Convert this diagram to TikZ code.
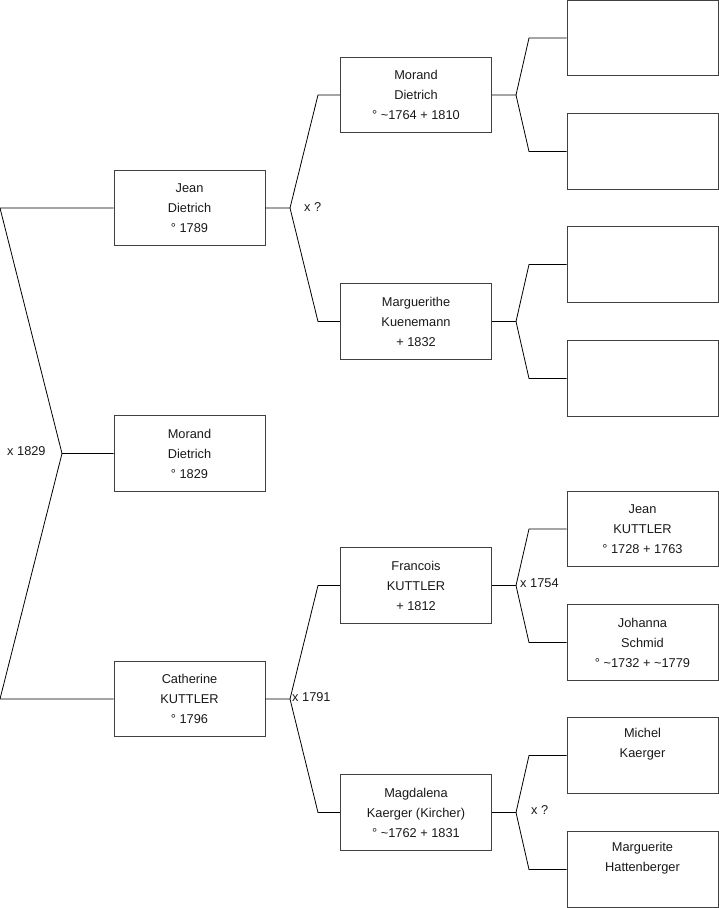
\documentclass[tikz,border=0pt]{standalone}
\usepackage{fontspec}
\setmainfont{Liberation Sans}
\usetikzlibrary{positioning}
\definecolor{boxgray}{RGB}{64,64,64}
\definecolor{txtgray}{RGB}{25,25,25}

\begin{document}
\begin{tikzpicture}[x=1pt, y=-1pt,
    every node/.style={font=\fontsize{12.8}{20}\selectfont, text=txtgray},
    person/.style={draw=boxgray, line width=0.9pt, minimum width=151pt, minimum height=75.5pt, inner sep=0pt, align=center},
    link/.style={draw=black, line width=0.8pt},
    marr/.style={anchor=west, inner sep=0pt}
]
\useasboundingbox (0,0) rectangle (719,908);

\node[person] (m) at (189.5,453.5) {Morand\\Dietrich\\° 1829};
\node[person] (f) at (189.5,208) {Jean\\Dietrich\\° 1789};
\node[person] (mo) at (189.5,699) {Catherine\\KUTTLER\\° 1796};

\node[person] (ff) at (416,95) {Morand\\Dietrich\\° \char`\~1764 + 1810};
\node[person] (fm) at (416,321.5) {Marguerithe\\Kuenemann\\+ 1832};
\node[person] (mf) at (416,585.5) {Francois\\KUTTLER\\+ 1812};
\node[person] (mm) at (416,812.5) {Magdalena\\Kaerger (Kircher)\\° \char`\~1762 + 1831};

\node[person] (fff) at (642.5,38) {};
\node[person] (ffm) at (642.5,151.5) {};
\node[person] (fmf) at (642.5,264.5) {};
\node[person] (fmm) at (642.5,378.5) {};
\node[person] (mff) at (642.5,529) {Jean\\KUTTLER\\° 1728 + 1763};
\node[person] (mfm) at (642.5,642.5) {Johanna\\Schmid\\° \char`\~1732 + \char`\~1779};
\node[person] (mmf) at (642.5,755.5) {Michel\\Kaerger\\\strut};
\node[person] (mmm) at (642.5,869.5) {Marguerite\\Hattenberger\\\strut};

\coordinate (jm) at (62,453.5);
\coordinate (jm1) at (0,208);
\coordinate (jm2) at (0,699);
\coordinate (jf) at (290,208);
\coordinate (jf1) at (318,95);
\coordinate (jf2) at (318,321.5);
\coordinate (jmo) at (290,699);
\coordinate (jmo1) at (318,585.5);
\coordinate (jmo2) at (318,812.5);
\coordinate (jff) at (516,95);
\coordinate (jff1) at (529,38);
\coordinate (jff2) at (529,151.5);
\coordinate (jfm) at (516,321.5);
\coordinate (jfm1) at (529,264.5);
\coordinate (jfm2) at (529,378.5);
\coordinate (jmf) at (516,585.5);
\coordinate (jmf1) at (529,529);
\coordinate (jmf2) at (529,642.5);
\coordinate (jmm) at (516,812.5);
\coordinate (jmm1) at (529,755.5);
\coordinate (jmm2) at (529,869.5);

\draw[link] (m.west) -- (jm) -- (jm1) -- (f.west);
\draw[link] (jm) -- (jm2) -- (mo.west);
\draw[link] (f.east) -- (jf) -- (jf1) -- (ff.west);
\draw[link] (jf) -- (jf2) -- (fm.west);
\draw[link] (mo.east) -- (jmo) -- (jmo1) -- (mf.west);
\draw[link] (jmo) -- (jmo2) -- (mm.west);
\draw[link] (ff.east) -- (jff) -- (jff1) -- (fff.west);
\draw[link] (jff) -- (jff2) -- (ffm.west);
\draw[link] (fm.east) -- (jfm) -- (jfm1) -- (fmf.west);
\draw[link] (jfm) -- (jfm2) -- (fmm.west);
\draw[link] (mf.east) -- (jmf) -- (jmf1) -- (mff.west);
\draw[link] (jmf) -- (jmf2) -- (mfm.west);
\draw[link] (mm.east) -- (jmm) -- (jmm1) -- (mmf.west);
\draw[link] (jmm) -- (jmm2) -- (mmm.west);

\node[marr] (xm) at (7,451) {x 1829};
\node[marr] (xf) at (304,207) {x ?};
\node[marr] (xmo) at (292,697) {x 1791};
\node[marr] (xmf) at (520,583) {x 1754};
\node[marr] (xmm) at (531,810) {x ?};

\end{tikzpicture}
\end{document}
